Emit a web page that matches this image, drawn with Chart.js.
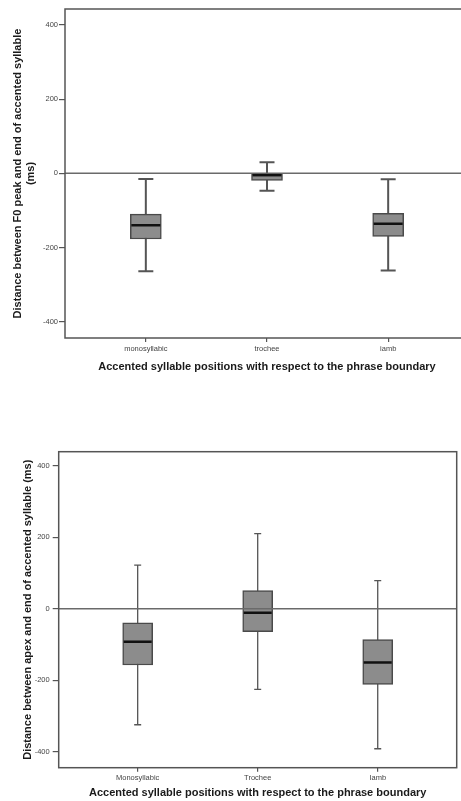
<!DOCTYPE html>
<html>
<head>
<meta charset="utf-8">
<script src="https://cdn.jsdelivr.net/npm/chart.js@4.4.1/dist/chart.umd.min.js"></script>
<style>
  html, body { margin: 0; padding: 0; background: #fff; overflow: hidden; }
  .wrap { position: absolute; left: 0; }
  #topWrap { top: 0; width: 480px; height: 385px; }
  #bottomWrap { top: 420px; width: 461px; height: 381px; }
</style>
</head>
<body>
<div class="wrap" id="topWrap"><canvas id="peakChart"></canvas></div>
<div class="wrap" id="bottomWrap"><canvas id="apexChart"></canvas></div>
<script>
// categories and box plot summaries (ms)
const positionsTop = ["monosyllabic", "trochee", "iamb"];
const positionsBottom = ["Monosyllabic", "Trochee", "Iamb"];
const yTicks = [-400, -200, 0, 200, 400];

// F0 peak vs end of accented syllable
const peakMin = [-264, -47, -262];
const peakQ1 = [-177, -19, -170];
const peakMedian = [-140, -5, -136];
const peakQ3 = [-110, 0, -108];
const peakMax = [-15, 30, -16];

// apex vs end of accented syllable
const apexMin = [-324, -225, -391];
const apexQ1 = [-157, -64, -211];
const apexMedian = [-92, -11, -150];
const apexQ3 = [-39, 51, -86];
const apexMax = [122, 210, 79];

const FONT = "'Liberation Sans', Arial, sans-serif";

// whiskers, medians, zero line and frame, all placed through the chart scales
const boxPlot = {
  id: "boxPlot",
  beforeDatasetsDraw(chart, args, opts) {
    const { ctx, scales: { x, y } } = chart;
    const half = opts.capWidth / 2;
    ctx.save();
    ctx.strokeStyle = "#555";
    ctx.lineWidth = opts.whiskerWidth;
    opts.min.forEach((lo, i) => {
      const px = x.getPixelForValue(i);
      const yLo = y.getPixelForValue(lo);
      const yHi = y.getPixelForValue(opts.max[i]);
      ctx.beginPath();
      ctx.moveTo(px, yLo);
      ctx.lineTo(px, yHi);
      ctx.moveTo(px - half, yLo);
      ctx.lineTo(px + half, yLo);
      ctx.moveTo(px - half, yHi);
      ctx.lineTo(px + half, yHi);
      ctx.stroke();
    });
    ctx.restore();
  },
  afterDatasetsDraw(chart, args, opts) {
    const { ctx, chartArea, scales: { x, y } } = chart;
    ctx.save();
    // reference line at 0
    const y0 = y.getPixelForValue(0);
    ctx.strokeStyle = "#6a6a6a";
    ctx.lineWidth = 1.5;
    ctx.beginPath();
    ctx.moveTo(chartArea.left, y0);
    ctx.lineTo(chartArea.right, y0);
    ctx.stroke();
    // medians
    ctx.strokeStyle = "#111";
    ctx.lineWidth = 2.5;
    opts.median.forEach((m, i) => {
      const px = x.getPixelForValue(i);
      const py = y.getPixelForValue(m);
      ctx.beginPath();
      ctx.moveTo(px - opts.boxWidth / 2 + 1, py);
      ctx.lineTo(px + opts.boxWidth / 2 - 1, py);
      ctx.stroke();
    });
    // frame
    ctx.strokeStyle = "#555";
    ctx.lineWidth = 1.5;
    ctx.strokeRect(chartArea.left, chartArea.top,
      chartArea.right - chartArea.left, chartArea.bottom - chartArea.top);
    ctx.restore();
  }
};

function makeBoxChart(canvasId, cfg) {
  return new Chart(document.getElementById(canvasId), {
    type: "bar",
    data: {
      datasets: [{
        data: cfg.labels.map((_, i) => ({ x: i, y: [cfg.q1[i], cfg.q3[i]] })),
        backgroundColor: "#8c8c8c",
        borderColor: "#4a4a4a",
        borderWidth: 1.5,
        borderSkipped: false,
        barThickness: cfg.boxWidth
      }]
    },
    options: {
      responsive: true,
      maintainAspectRatio: false,
      animation: false,
      layout: { padding: cfg.padding },
      plugins: {
        legend: { display: false },
        tooltip: { enabled: false },
        boxPlot: {
          min: cfg.min, max: cfg.max, median: cfg.median,
          capWidth: cfg.capWidth, boxWidth: cfg.boxWidth,
          whiskerWidth: cfg.whiskerWidth
        }
      },
      scales: {
        x: {
          type: "linear",
          min: cfg.xMin,
          max: cfg.xMax,
          offset: false,
          afterBuildTicks: (s) => { s.ticks = cfg.labels.map((_, i) => ({ value: i })); },
          afterFit: (s) => { s.height = cfg.xHeight; },
          grid: { drawOnChartArea: false, offset: false, tickLength: 4, color: "#555", lineWidth: 1.2 },
          border: { display: false },
          ticks: {
            padding: 2,
            maxRotation: 0,
            color: "#444",
            font: { family: FONT, size: 7.5 },
            callback: (v) => cfg.labels[v]
          },
          title: {
            display: true,
            text: "Accented syllable positions with respect to the phrase boundary",
            color: "#1a1a1a",
            font: { family: FONT, size: 11, weight: "bold" },
            padding: { top: 0, bottom: cfg.xTitlePad }
          }
        },
        y: {
          min: cfg.yMin,
          max: cfg.yMax,
          afterBuildTicks: (s) => { s.ticks = yTicks.map((v) => ({ value: v })); },
          afterFit: (s) => { s.width = cfg.yWidth; },
          grid: { drawOnChartArea: false, tickLength: 6, color: "#555", lineWidth: 1.2 },
          border: { display: false },
          ticks: {
            padding: cfg.yTickPad,
            color: "#444",
            font: { family: FONT, size: 7.5 }
          },
          title: {
            display: true,
            text: cfg.yTitle,
            color: "#1a1a1a",
            font: { family: FONT, size: 11, weight: "bold" },
            padding: { top: cfg.yTitlePad, bottom: 0 }
          }
        }
      }
    },
    plugins: [boxPlot]
  });
}

makeBoxChart("peakChart", {
  labels: positionsTop,
  min: peakMin, q1: peakQ1, median: peakMedian, q3: peakQ3, max: peakMax,
  yTitle: ["Distance between F0 peak and end of accented syllable", "(ms)"],
  yMin: -444, yMax: 443,
  xMin: -0.667, xMax: 2.667,
  padding: { top: 9, right: 11, left: 0, bottom: 0 },
  yWidth: 65, xHeight: 47,
  yTitlePad: 11.4, xTitlePad: 11.7, yTickPad: 1,
  boxWidth: 31, capWidth: 15, whiskerWidth: 2
});

makeBoxChart("apexChart", {
  labels: positionsBottom,
  min: apexMin, q1: apexQ1, median: apexMedian, q3: apexQ3, max: apexMax,
  yTitle: "Distance between apex and end of accented syllable (ms)",
  yMin: -444, yMax: 439,
  xMin: -0.658, xMax: 2.658,
  padding: { top: 31.7, right: 4.3, left: 0, bottom: 0 },
  yWidth: 58.7, xHeight: 33.3,
  yTitlePad: 21.4, xTitlePad: 1.4, yTickPad: 3,
  boxWidth: 30, capWidth: 7, whiskerWidth: 1.3
});
</script>
</body>
</html>
